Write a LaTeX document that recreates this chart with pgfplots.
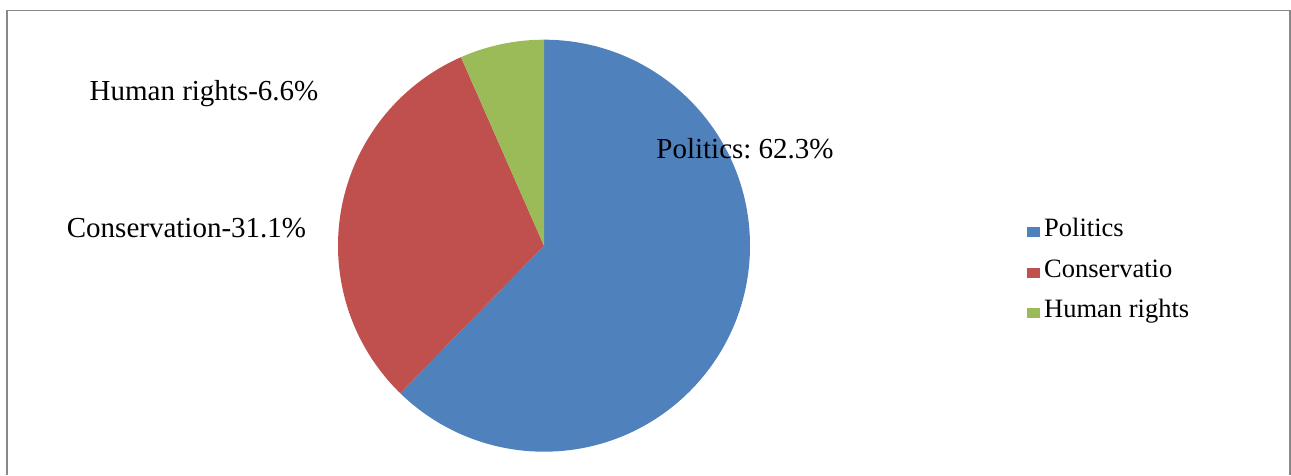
\documentclass[border=0pt]{standalone}
\usepackage{pgfplots}
\pgfplotsset{compat=1.18}
\usepackage{pgfplotstable}
\usepackage{fontspec}
\setmainfont{Liberation Serif}
\frenchspacing
\definecolor{cPol}{HTML}{4F81BD}
\definecolor{cCon}{HTML}{C0504D}
\definecolor{cHum}{HTML}{9BBB59}
\definecolor{cFrame}{HTML}{888888}

\pgfplotstableread[col sep=comma]{
label,value
Politics,62.3
Conservation,31.1
Human rights,6.6
}\piedata

\pgfplotstablegetelem{0}{value}\of\piedata \let\vPol\pgfplotsretval
\pgfplotstablegetelem{1}{value}\of\piedata \let\vCon\pgfplotsretval
\pgfplotstablegetelem{2}{value}\of\piedata \let\vHum\pgfplotsretval
\pgfmathsetmacro{\aA}{90}
\pgfmathsetmacro{\aB}{\aA-3.6*\vPol}
\pgfmathsetmacro{\aC}{\aB-3.6*\vCon}
\pgfmathsetmacro{\aD}{\aC-3.6*\vHum}

\begin{document}
\begin{tikzpicture}
\begin{axis}[
  width=1291pt, height=475pt, scale only axis,
  xmin=0, xmax=1291, ymin=0, ymax=475,
  hide axis, clip=false,
]
% full canvas
\path (axis cs:0,0) rectangle (axis cs:1291,475);
% pie wedges
\fill[cPol] (axis cs:544,229.3) -- ++(\aA:206pt) arc[start angle=\aA, end angle=\aB, radius=206pt] -- cycle;
\fill[cCon] (axis cs:544,229.3) -- ++(\aB:206pt) arc[start angle=\aB, end angle=\aC, radius=206pt] -- cycle;
\fill[cHum] (axis cs:544,229.3) -- ++(\aC:206pt) arc[start angle=\aC, end angle=\aD, radius=206pt] -- cycle;
% data labels
\node[anchor=base, inner sep=0pt, font=\fontsize{29}{34}\selectfont] at (axis cs:745,316) {Politics: \vPol\%};
\node[anchor=base, inner sep=0pt, font=\fontsize{29}{34}\selectfont] at (axis cs:186.5,237) {Conservation-\vCon\%};
\node[anchor=base, inner sep=0pt, font=\fontsize{29}{34}\selectfont] at (axis cs:204,374) {Human rights-\vHum\%};
% legend
\fill[cPol] (axis cs:1027,238) rectangle (axis cs:1040,248);
\fill[cCon] (axis cs:1027,197) rectangle (axis cs:1040,207);
\fill[cHum] (axis cs:1027,157) rectangle (axis cs:1040,167);
\node[anchor=base west, inner sep=0pt, font=\fontsize{26.5}{30}\selectfont] at (axis cs:1044,238) {Politics};
\node[anchor=base west, inner sep=0pt, font=\fontsize{26.5}{30}\selectfont] at (axis cs:1044,197) {Conservatio};
\node[anchor=base west, inner sep=0pt, font=\fontsize{26.5}{30}\selectfont] at (axis cs:1044,157) {Human rights};
% frame
\draw[cFrame, line width=1.8pt] (axis cs:6.8,0) -- (axis cs:6.8,464.5) -- (axis cs:1290,464.5) -- (axis cs:1290,0);
\end{axis}
\end{tikzpicture}
\end{document}
